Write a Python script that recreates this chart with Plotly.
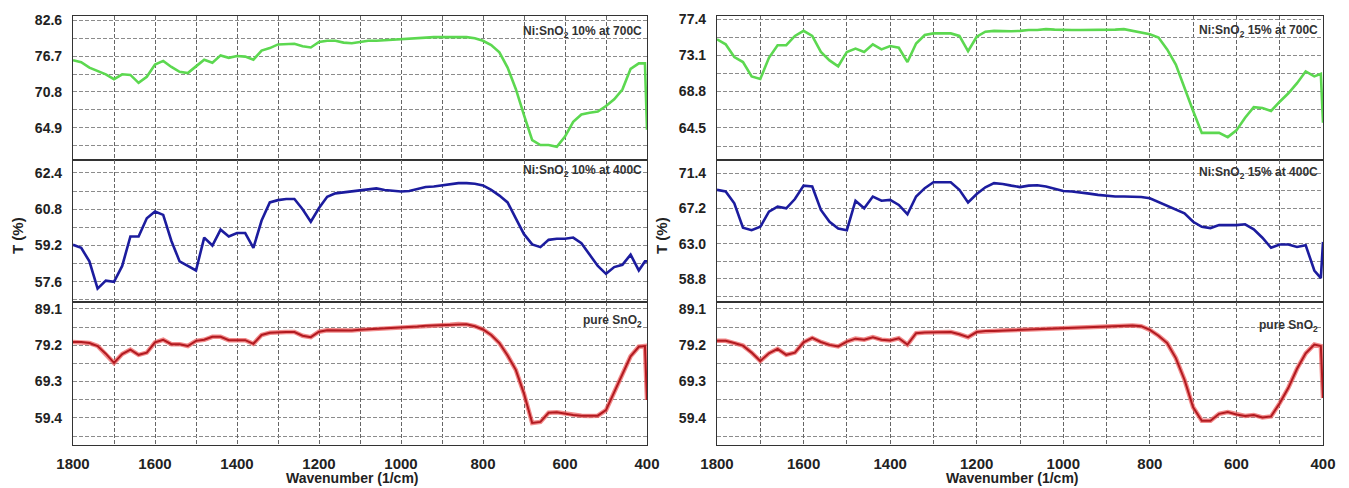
import plotly.graph_objects as go

# ---------------- data ----------------
wavenumber = [1800, 1780, 1760, 1740, 1720, 1700, 1680, 1660, 1640, 1620,
              1600, 1580, 1560, 1540, 1520, 1500, 1480, 1460, 1440, 1420,
              1400, 1380, 1360, 1340, 1320, 1300, 1280, 1260, 1240, 1220,
              1200, 1180, 1160, 1140, 1120, 1100, 1080, 1060, 1040, 1020,
              1000, 980, 960, 940, 920, 900, 880, 860, 840, 820,
              800, 780, 760, 740, 720, 700, 680, 660, 640, 620,
              600, 580, 560, 540, 520, 500, 480, 460, 440, 420,
              405, 400]

ni10_700 = [76.0, 75.7, 74.8, 74.2, 73.7, 72.9, 73.7, 73.6, 72.3, 73.3,
            75.3, 75.9, 74.9, 74.1, 73.9, 75.0, 76.1, 75.6, 76.8, 76.4,
            76.7, 76.6, 76.1, 77.6, 78.0, 78.6, 78.7, 78.7, 78.3, 78.1,
            79.0, 79.2, 79.2, 78.9, 78.8, 79.0, 79.2, 79.2, 79.3, 79.4,
            79.5, 79.5, 79.6, 79.7, 79.8, 79.8, 79.8, 79.8, 79.8, 79.6,
            79.2, 78.5, 77.3, 74.8, 71.3, 67.0, 62.9, 62.1, 62.1, 61.8,
            63.5, 65.9, 67.1, 67.4, 67.6, 68.5, 69.6, 71.2, 74.6, 75.5,
            75.5, 64.6]

ni10_400 = [59.23, 59.1, 58.5, 57.3, 57.65, 57.6, 58.3, 59.6, 59.6, 60.4,
            60.7, 60.55, 59.4, 58.5, 58.3, 58.1, 59.55, 59.2, 59.9, 59.6,
            59.75, 59.75, 59.1, 60.3, 61.1, 61.2, 61.25, 61.25, 60.8, 60.25,
            60.85, 61.35, 61.5, 61.55, 61.6, 61.65, 61.7, 61.72, 61.65, 61.6,
            61.58, 61.6, 61.7, 61.78, 61.8, 61.85, 61.9, 61.95, 61.95, 61.92,
            61.85, 61.65, 61.4, 61.1, 60.4, 59.7, 59.25, 59.13, 59.45, 59.5,
            59.5, 59.55, 59.3, 58.8, 58.3, 57.95, 58.25, 58.35, 58.8, 58.1,
            58.5, 58.5]

pure_left = [80.1, 80.1, 79.8, 79.0, 76.9, 74.4, 76.8, 78.0, 76.6, 77.2,
             80.0, 80.7, 79.5, 79.5, 79.0, 80.4, 80.7, 81.5, 81.5, 80.6,
             80.6, 80.6, 79.6, 82.0, 82.6, 82.8, 82.8, 82.8, 81.8, 81.4,
             82.9, 83.3, 83.2, 83.1, 83.2, 83.4, 83.5, 83.6, 83.8, 83.9,
             84.1, 84.2, 84.3, 84.5, 84.6, 84.7, 84.8, 85.0, 84.9, 84.4,
             83.5, 82.0, 79.8, 76.4, 72.5, 66.0, 58.0, 58.3, 60.8, 60.9,
             60.5, 60.2, 60.0, 59.9, 60.0, 61.5, 66.5, 71.2, 76.2, 78.8,
             79.0, 64.3]

ni15_700 = [75.0, 74.4, 72.9, 72.3, 70.6, 70.3, 72.8, 74.3, 74.3, 75.4,
            76.0, 75.4, 73.5, 72.5, 71.8, 73.5, 73.9, 73.5, 74.4, 73.8,
            74.2, 74.0, 72.3, 74.5, 75.5, 75.7, 75.7, 75.7, 75.4, 73.6,
            75.3, 75.9, 76.0, 75.95, 75.95, 76.0, 76.1, 76.1, 76.2, 76.15,
            76.1, 76.1, 76.1, 76.1, 76.1, 76.1, 76.15, 76.2, 76.0, 75.85,
            75.6, 75.2, 73.8, 72.0, 69.2, 66.5, 63.9, 63.9, 63.9, 63.4,
            64.2, 65.7, 66.95, 66.85, 66.5, 67.6, 68.6, 69.8, 71.2, 70.6,
            70.9, 65.1]

ni15_400 = [69.4, 69.2, 67.8, 64.9, 64.6, 65.0, 66.8, 67.4, 67.2, 68.3,
            69.9, 69.8, 67.0, 65.6, 64.8, 64.6, 68.1, 67.2, 68.6, 68.1,
            68.2, 67.6, 66.5, 68.6, 69.6, 70.3, 70.3, 70.3, 69.4, 67.9,
            68.9, 69.7, 70.2, 70.1, 69.9, 69.73, 69.9, 69.95, 69.8, 69.5,
            69.26, 69.2, 69.1, 68.95, 68.8, 68.7, 68.6, 68.6, 68.58, 68.55,
            68.4, 67.95, 67.5, 67.05, 66.6, 65.6, 65.0, 64.85, 65.2, 65.2,
            65.2, 65.3, 64.7, 63.7, 62.5, 62.9, 62.9, 62.6, 62.8, 59.8,
            58.9, 63.2]

pure_right = [80.4, 80.4, 79.8, 79.1, 77.2, 74.9, 77.0, 78.2, 76.6, 77.2,
              80.0, 81.2, 80.1, 79.3, 78.9, 80.2, 81.0, 80.7, 81.4, 80.7,
              80.5, 81.1, 79.4, 82.5, 82.7, 82.8, 82.8, 82.8, 82.2, 81.4,
              82.8, 83.1, 83.1, 83.2, 83.3, 83.4, 83.5, 83.6, 83.7, 83.8,
              83.9, 84.0, 84.1, 84.2, 84.2, 84.4, 84.6, 84.7, 84.6, 84.4,
              83.4, 81.8, 79.8, 75.7, 69.8, 62.3, 58.6, 58.6, 60.5, 61.0,
              60.3, 59.9, 60.2, 59.5, 59.8, 63.4, 67.6, 72.8, 77.0, 79.4,
              79.0, 64.8]

labels_left = ["Ni:SnO<sub>2</sub> 10% at 700C", "Ni:SnO<sub>2</sub> 10% at 400C", "pure SnO<sub>2</sub>"]
labels_right = ["Ni:SnO<sub>2</sub> 15% at 700C", "Ni:SnO<sub>2</sub> 15% at 400C", "pure SnO<sub>2</sub>"]
x_ticks = [1800, 1600, 1400, 1200, 1000, 800, 600, 400]

# y-axis tick settings per panel [tick0, dtick, range]
yspec_left = [(64.9, 5.9, [59.65, 83.26]), (57.6, 1.6, [56.71, 62.97]), (59.4, 9.9, [52.0, 91.0])]
yspec_right = [(64.5, 4.3, [60.69, 77.76]), (58.8, 4.2, [56.05, 72.95]), (59.4, 9.9, [52.0, 91.0])]

# ---------------- layout helpers ----------------
OFF = 8                      # page body margin offset
W, H = 1349 - OFF, 488 - OFF
GREEN = "rgb(92,216,80)"
BLUE = "rgb(28,28,158)"
RED = "rgb(178,26,32)"
RED_HALO = "rgba(238,100,100,0.75)"
VGRID = "#666666"
HGRID = "#8c8c8c"
DASH = "4px,2px"

xdom = [(73, 647), (717, 1323)]
ydom = [(16, 160), (160, 302), (302, 445)]

def px2x(p):
    return (p - OFF) / W

def px2y(p):
    return 1 - (p - OFF) / H

fig = go.Figure()
font_fam = "Liberation Sans, Arial, sans-serif"

series = [[ni10_700, ni10_400, pure_left], [ni15_700, ni15_400, pure_right]]
colors = [GREEN, BLUE, RED]
yspecs = [yspec_left, yspec_right]
labels = [labels_left, labels_right]

layout_axes = {}
for p in range(2):
    for r in range(3):
        i = p * 3 + r + 1
        xa = "x" if i == 1 else f"x{i}"
        ya = "y" if i == 1 else f"y{i}"
        ys = series[p][r]
        if r == 2:
            fig.add_trace(go.Scatter(x=wavenumber, y=ys, mode="lines", xaxis=xa, yaxis=ya,
                                     line=dict(color=RED_HALO, width=4.5), showlegend=False,
                                     hoverinfo="skip"))
            fig.add_trace(go.Scatter(x=wavenumber, y=ys, mode="lines", xaxis=xa, yaxis=ya,
                                     line=dict(color=RED, width=2), showlegend=False))
        else:
            fig.add_trace(go.Scatter(x=wavenumber, y=ys, mode="lines", xaxis=xa, yaxis=ya,
                                     line=dict(color=colors[r], width=2.6), showlegend=False))
        t0, dt, rng = yspecs[p][r]
        xkey = "xaxis" if i == 1 else f"xaxis{i}"
        ykey = "yaxis" if i == 1 else f"yaxis{i}"
        layout_axes[xkey] = dict(
            domain=[px2x(xdom[p][0]), px2x(xdom[p][1])],
            anchor=ya, range=[1800, 400], automargin=False,
            tickmode="array", tickvals=x_ticks, ticktext=[str(v) for v in x_ticks],
            showticklabels=(r == 2), ticks="",
            tickfont=dict(family=font_fam, size=15, color="#222", weight="bold"),
            ticklabelstandoff=5,
            showgrid=True, gridcolor=VGRID, griddash=DASH, gridwidth=1,
            minor=dict(dtick=100, tick0=1800, showgrid=True, gridcolor=VGRID,
                       griddash=DASH, gridwidth=1),
            showline=True, linecolor="#333", linewidth=1.2, mirror=True,
            zeroline=False,
        )
        layout_axes[ykey] = dict(
            domain=[px2y(ydom[r][1]), px2y(ydom[r][0])],
            anchor=xa, range=rng, automargin=False,
            tickmode="linear", tick0=t0, dtick=dt, tickformat=".1f", ticks="",
            tickfont=dict(family=font_fam, size=14, color="#222", weight="bold"),
            ticklabelstandoff=7,
            showgrid=True, gridcolor=HGRID, griddash=DASH, gridwidth=1,
            minor=dict(tick0=t0, dtick=dt / 2, showgrid=True, gridcolor=HGRID,
                       griddash=DASH, gridwidth=1),
            showline=True, linecolor="#333", linewidth=1.2, mirror=True,
            zeroline=False,
        )

annotations = []
label_y = [[32, 171, 321], [31, 173, 326]]
for p in range(2):
    for r in range(3):
        annotations.append(dict(
            x=px2x(xdom[p][1] - 3), y=px2y(label_y[p][r]), xref="paper", yref="paper",
            xanchor="right", yanchor="middle", showarrow=False,
            text="<b>" + labels[p][r] + "</b>",
            font=dict(family=font_fam, size=12, color="#333")))
    # x title
    annotations.append(dict(
        x=px2x((xdom[p][0] + xdom[p][1]) / 2 - 8), y=px2y(478), xref="paper", yref="paper",
        xanchor="center", yanchor="middle", showarrow=False,
        text="<b>Wavenumber (1/cm)</b>",
        font=dict(family=font_fam, size=14, color="#222")))
    # y title
    annotations.append(dict(
        x=px2x(xdom[p][0] - 56), y=px2y(236), xref="paper", yref="paper",
        xanchor="center", yanchor="middle", showarrow=False, textangle=-90,
        text="<b>T (%)</b>",
        font=dict(family=font_fam, size=15, color="#222")))

fig.update_layout(
    width=W, height=H,
    margin=dict(l=0, r=0, t=0, b=0, autoexpand=False),
    paper_bgcolor="white", plot_bgcolor="white",
    annotations=annotations,
    **layout_axes,
)

fig.write_html("out.html")
